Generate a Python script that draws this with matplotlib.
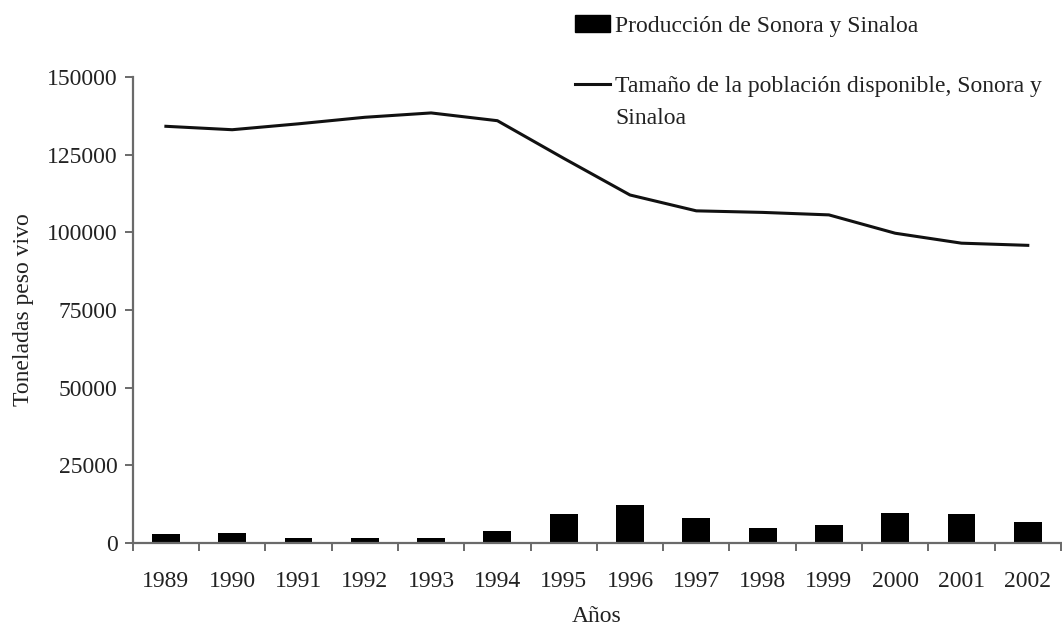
import matplotlib.pyplot as plt
from matplotlib.patches import Patch
from matplotlib.lines import Line2D

years = ["1989", "1990", "1991", "1992", "1993", "1994", "1995",
         "1996", "1997", "1998", "1999", "2000", "2001", "2002"]
produccion = [2900, 3300, 1700, 1700, 1700, 3900, 9300,
              12150, 8000, 4900, 5700, 9700, 9300, 6800]
poblacion = [134100, 133000, 134900, 137000, 138400, 135900, 123800,
             112000, 106900, 106400, 105600, 99700, 96500, 95800]
yticks = [0, 25000, 50000, 75000, 100000, 125000, 150000]

plt.rcParams["font.family"] = ["Liberation Serif", "DejaVu Serif"]
text_color = "#222222"
axis_color = "#6a6a6a"

fig = plt.figure(figsize=(10.62, 6.25), dpi=100)
ax = fig.add_axes([0.125, 0.131, 0.874, 0.746])

x = list(range(len(years)))
ax.bar(x, produccion, width=0.42, color="black", zorder=2)
ax.plot(x, poblacion, color="#111111", lw=2.2, zorder=3)

ax.set_xlim(-0.5, len(years) - 0.5)
ax.set_ylim(0, 150000)
ax.set_yticks(yticks)
ax.set_yticklabels([str(v) for v in yticks])
ax.set_xticks(x)
ax.set_xticklabels(years)
ax.set_xticks([i - 0.5 for i in range(len(years) + 1)], minor=True)

for side in ["top", "right"]:
    ax.spines[side].set_visible(False)
for side in ["left", "bottom"]:
    ax.spines[side].set_color(axis_color)
    ax.spines[side].set_linewidth(1.6)

ax.tick_params(axis="x", which="major", length=0, pad=20, labelsize=17,
               labelcolor=text_color)
ax.tick_params(axis="x", which="minor", length=6, width=1.4, color=axis_color)
ax.tick_params(axis="y", length=6, width=1.4, color=axis_color, pad=5,
               labelsize=17, labelcolor=text_color)

ax.set_xlabel("Años", fontsize=17, color=text_color, labelpad=10)
ax.set_ylabel("Toneladas peso vivo", fontsize=17, color=text_color, labelpad=9)

# legend: bar entry on top, line entry (two lines of text) below
leg_kw = dict(frameon=False, fontsize=17, borderpad=0, borderaxespad=0,
              handlelength=1.5, handletextpad=0.2, labelcolor=text_color)
fig.legend([Patch(facecolor="black", edgecolor="black")],
           ["Producción de Sonora y Sinaloa"],
           loc="center left", bbox_to_anchor=(0.5414, 0.958), **leg_kw)
fig.legend([Line2D([0], [0], color="#111111", lw=2.2),
            Line2D([0], [0], color="none")],
           ["Tamaño de la población disponible, Sonora y", "Sinaloa"],
           loc="upper left", bbox_to_anchor=(0.5414, 0.879),
           labelspacing=0.45, **leg_kw)

fig.savefig("out.png", dpi=100)
